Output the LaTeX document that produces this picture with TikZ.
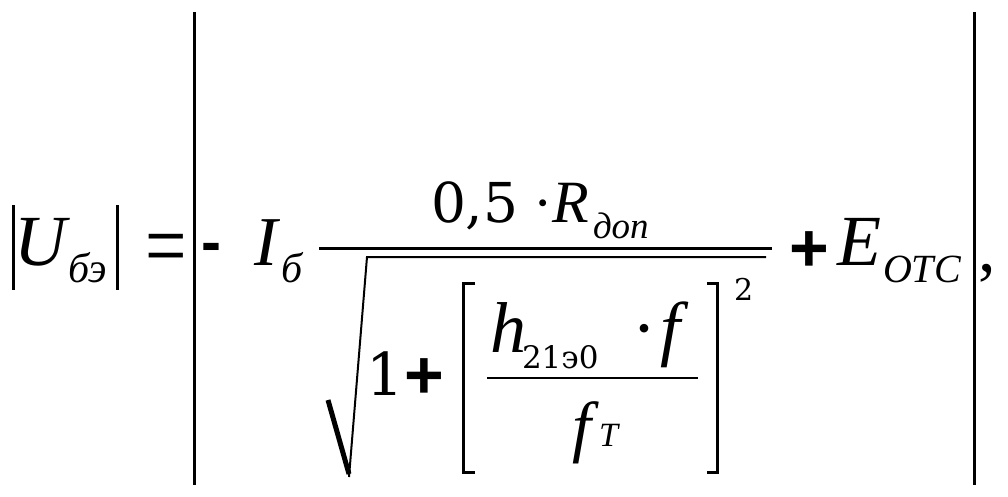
\documentclass[tikz,border=0pt]{standalone}
\usepackage{fontspec}
\setmainfont{Liberation Serif}
\newfontfamily\djs{DejaVu Serif}
\newfontfamily\lsans{Liberation Sans}
\newcommand\fsz[1]{\fontsize{#1}{#1}\selectfont}
\tikzset{
  txt/.style={inner sep=0pt,outer sep=0pt,anchor=base west},
  barline/.style={line width=3pt},
  thinrule/.style={line width=1.2pt}
}
\begin{document}
\begin{tikzpicture}[x=1pt,y=-1pt]
\useasboundingbox (0,0) rectangle (1008,496);
% absolute value bars
\draw[barline] (13,205) -- (13,290);
\draw[barline] (117,205) -- (117,290);
\draw[barline] (194,12) -- (194,485);
\draw[barline] (974,12) -- (974,485);
% left side
\node[txt,font=\fsz{72}\itshape] (U) at (14,265) {U};
\node[txt,font=\fsz{42}\itshape] (Ub) at (68,282) {бэ};
\node[txt,font=\fsz{70}] (eq) at (145,277) {\scalebox{1.05}[1.35]{=}};
\node[txt,font=\fsz{60}\lsans\bfseries] (minus) at (201,262) {-};
\node[txt,font=\fsz{70}\itshape] (I) at (254,265) {I};
\node[txt,font=\fsz{42}\itshape] (Ib) at (281,282) {б};
% main fraction
\draw[barline] (319,248) -- (772,248);
\node[txt,font=\fsz{55}\djs] (n05) at (431,222) {0,5};
\node[txt,font=\fsz{58}] (d1) at (533,222) {·};
\node[txt,font=\fsz{60}\itshape] (R) at (552,222) {R};
\node[txt,font=\fsz{37}\itshape] (Rs) at (593,238) {доп};
% radical
\draw[line width=5pt] (328,400) -- (349,474);
\draw[line width=2pt,line join=miter] (349,477) -- (367,257) -- (766,257);
\node[txt,font=\fsz{59}\djs] (one) at (366,395) {1};
\node[txt,font=\fsz{68}\lsans\bfseries] (plus1) at (404,398) {+};
% brackets
\draw[barline] (475,283) -- (463,283) -- (463,472) -- (475,472);
\draw[barline] (707,283) -- (717,283) -- (717,472) -- (707,472);
\node[txt,font=\fsz{30}\djs] (sq) at (734,300) {2};
% inner fraction
\draw[thinrule] (487,378) -- (698,378);
\node[txt,font=\fsz{72}\itshape] (h) at (490,352) {h};
\node[txt,font=\fsz{31}\djs] (hs) at (522,368) {21э0};
\node[txt,font=\fsz{72}] (d2) at (632,352) {·};
\node[txt,font=\fsz{72}\itshape] (f1) at (660,352) {f};
\node[txt,font=\fsz{68}\itshape] (f2) at (572,449) {f};
\node[txt,font=\fsz{34}\itshape] (fT) at (599,446) {T};
% right part
\node[txt,font=\fsz{68}\lsans\bfseries] (plus2) at (789,271) {+};
\node[txt,font=\fsz{72}\itshape] (E) at (837,265) {E};
\node[txt,font=\fsz{40}\itshape] (Es) at (883,282) {ОТС};
\node[txt,font=\fsz{70}] (comma) at (978,271) {,};
\end{tikzpicture}
\end{document}
